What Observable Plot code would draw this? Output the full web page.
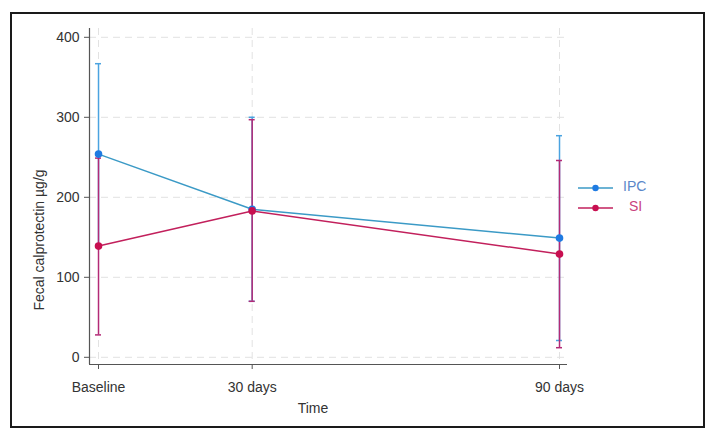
<!DOCTYPE html>
<html><head><meta charset="utf-8">
<script src="https://cdn.jsdelivr.net/npm/d3@7"></script>
<script src="https://cdn.jsdelivr.net/npm/@observablehq/plot@0.6"></script>
<style>
body{margin:0;background:#fff;font-family:"Liberation Sans",Arial,sans-serif;}
#wrap{position:relative;width:715px;height:440px;overflow:hidden;}
#frame{position:absolute;left:10px;top:12px;width:691px;height:412px;border:2px solid #1a1a1a;pointer-events:none;}
.t{position:absolute;font-size:14px;line-height:14px;color:#333;white-space:nowrap;}
#ytitle{left:39px;top:240px;transform:translate(-50%,-50%) rotate(-90deg);}
#xtitle{left:313px;top:401px;transform:translateX(-50%);}
.leg{position:absolute;}
</style>
</head><body>
<div id="wrap">
<div id="chart"></div>
<div id="frame"></div>
<div class="t" id="ytitle">Fecal calprotectin µg/g</div>
<div class="t" id="xtitle">Time</div>
<div id="legend"></div>
</div>
<script>
// Data
const days = [0, 30, 90];
const dayLabels = ["Baseline", "30 days", "90 days"];
const yTicks = [0, 100, 200, 300, 400];
const seriesNames = ["IPC", "SI"];
const ipcMean = [254, 185, 149];
const ipcLow = [141, 70, 21];
const ipcHigh = [367, 300, 277];
const siMean = [139, 183, 129];
const siLow = [28, 70, 12];
const siHigh = [249, 297, 246];

const colors = {
  IPC: {line: "#3b9ac6", dot: "#1f7be2", err: "#4ba3e0", text: "#5a87c9"},
  SI: {line: "#c2205c", dot: "#c80f50", err: "#b32a76", text: "#c9417d"}
};

const ipc = days.map((d, i) => ({day: d, mean: ipcMean[i], low: ipcLow[i], high: ipcHigh[i]}));
const si = days.map((d, i) => ({day: d, mean: siMean[i], low: siLow[i], high: siHigh[i]}));

const xDomain = [-1.76, 91.56];
const yDomain = [-9, 411];

function errMarks(data, c) {
  return [
    Plot.ruleX(data, {x: "day", y1: "low", y2: "high", stroke: c.err, strokeWidth: 1.5}),
    Plot.ruleY(data, {y: "high", x1: "day", x2: "day", insetLeft: -3, insetRight: -3, stroke: c.err, strokeWidth: 1.5}),
    Plot.ruleY(data, {y: "low", x1: "day", x2: "day", insetLeft: -3, insetRight: -3, stroke: c.err, strokeWidth: 1.5})
  ];
}

const chart = Plot.plot({
  width: 715,
  height: 440,
  marginLeft: 89,
  marginRight: 148,
  marginTop: 28,
  marginBottom: 76,
  style: {fontFamily: "'Liberation Sans', Arial, sans-serif", fontSize: "14px", color: "#333", background: "transparent"},
  x: {type: "linear", domain: xDomain},
  y: {domain: yDomain},
  marks: [
    Plot.ruleY(yTicks, {stroke: "#e2e2e2", strokeDasharray: "7,5"}),
    Plot.ruleX(days, {stroke: "#e2e2e2", strokeDasharray: "7,5"}),
    Plot.ruleX([xDomain[0]], {stroke: "#555", strokeWidth: 1.2}),
    Plot.ruleY([yDomain[0]], {stroke: "#555", strokeWidth: 1.2}),
    Plot.axisY(yTicks, {tickSize: 5, tickPadding: 5, stroke: "#555", fill: "#333", fontSize: 14, label: null}),
    Plot.axisX(days, {tickSize: 5, tickPadding: 13, stroke: "#555", fill: "#333", fontSize: 14, label: null,
      tickFormat: d => dayLabels[days.indexOf(d)]}),
    ...errMarks(ipc, colors.IPC),
    ...errMarks(si, colors.SI),
    Plot.line(ipc, {x: "day", y: "mean", stroke: colors.IPC.line, strokeWidth: 1.5}),
    Plot.line(si, {x: "day", y: "mean", stroke: colors.SI.line, strokeWidth: 1.5}),
    Plot.dot(ipc, {x: "day", y: "mean", r: 3.8, fill: colors.IPC.dot}),
    Plot.dot(si, {x: "day", y: "mean", r: 3.8, fill: colors.SI.dot})
  ]
});
document.getElementById("chart").appendChild(chart);

// Legend
const legend = document.getElementById("legend");
const legPos = [{y: 186, tx: 623}, {y: 206, tx: 629}];
seriesNames.forEach((name, i) => {
  const c = colors[name];
  const p = legPos[i];
  const sw = document.createElement("div");
  sw.className = "leg";
  sw.style.left = "578px";
  sw.style.top = (p.y - 6) + "px";
  sw.innerHTML = `<svg width="35" height="12"><line x1="0" y1="6" x2="35" y2="6" stroke="${c.line}" stroke-width="1.5"/><circle cx="17.5" cy="6" r="3.2" fill="${c.dot}"/></svg>`;
  legend.appendChild(sw);
  const tx = document.createElement("div");
  tx.className = "t";
  tx.style.left = p.tx + "px";
  tx.style.top = (p.y - 7) + "px";
  tx.style.color = c.text;
  tx.textContent = name;
  legend.appendChild(tx);
});
</script>
</body></html>
